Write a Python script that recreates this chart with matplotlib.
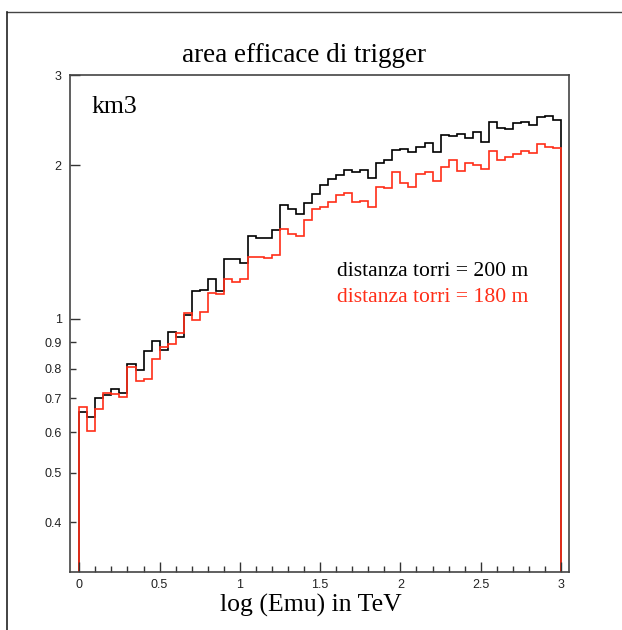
import numpy as np
import matplotlib
matplotlib.use('Agg')
import matplotlib.pyplot as plt
from matplotlib.lines import Line2D

# istogrammi: 60 bin da 0.05 in log(Emu), da 0 a 3
edges = np.linspace(0.0, 3.0, 61)

# area efficace (km3) con distanza torri = 200 m
area_200 = [0.659, 0.642, 0.700, 0.711, 0.730, 0.717, 0.818, 0.795, 0.864, 0.906,
            0.870, 0.944, 0.922, 1.018, 1.133, 1.138, 1.199, 1.134, 1.310, 1.310,
            1.285, 1.451, 1.438, 1.438, 1.493, 1.669, 1.640, 1.605, 1.689, 1.759,
            1.826, 1.879, 1.916, 1.957, 1.941, 1.957, 1.885, 2.022, 2.047, 2.142,
            2.154, 2.120, 2.174, 2.208, 2.120, 2.292, 2.280, 2.295, 2.261, 2.319,
            2.221, 2.433, 2.365, 2.351, 2.415, 2.426, 2.397, 2.481, 2.496, 2.452]

# area efficace (km3) con distanza torri = 180 m
area_180 = [0.672, 0.603, 0.667, 0.717, 0.713, 0.704, 0.804, 0.757, 0.762, 0.834,
            0.880, 0.895, 0.940, 1.027, 0.997, 1.033, 1.122, 1.118, 1.198, 1.183,
            1.198, 1.324, 1.322, 1.318, 1.336, 1.502, 1.467, 1.454, 1.560, 1.644,
            1.659, 1.697, 1.746, 1.767, 1.692, 1.704, 1.654, 1.813, 1.807, 1.942,
            1.843, 1.810, 1.922, 1.934, 1.860, 1.986, 2.050, 1.945, 2.017, 2.002,
            1.966, 2.126, 2.047, 2.078, 2.101, 2.126, 2.116, 2.197, 2.168, 2.161]

y_major = [1, 2, 3]
y_minor = [0.4, 0.5, 0.6, 0.7, 0.8, 0.9]
x_major = [0, 0.5, 1, 1.5, 2, 2.5, 3]

rosso = '#ff2e18'
serif = 'Liberation Serif'
sans = 'Liberation Sans'

fig = plt.figure(figsize=(6.22, 6.30), dpi=100)
ax = fig.add_axes([70 / 622, 58 / 630, 499 / 622, 497 / 630])

# baseline sotto l'asse: i bordi verticali scendono fino in fondo
ax.stairs(area_200, edges, baseline=1e-3, color='black', lw=1.2)
ax.stairs(area_180, edges, baseline=1e-3, color=rosso, lw=1.2)

ax.set_yscale('log')
ax.set_xlim(-0.058, 3.05)
ax.set_ylim(0.32, 3.0)

ax.set_yticks(y_major)
ax.set_yticklabels([str(v) for v in y_major])
ax.set_yticks(y_minor, minor=True)
ax.set_yticklabels([str(v) for v in y_minor], minor=True)

ax.set_xticks(x_major)
ax.set_xticklabels(['0', '0.5', '1', '1.5', '2', '2.5', '3'])
ax.set_xticks(np.arange(0.1, 3.0, 0.1), minor=True)
ax.xaxis.set_minor_formatter(plt.NullFormatter())

ax.tick_params(which='both', direction='in', colors='#333333', labelcolor='#222222',
               labelsize=9, width=1)
ax.tick_params(axis='y', which='major', length=7, pad=6)
ax.tick_params(axis='y', which='minor', length=4, pad=6)
ax.tick_params(axis='x', which='major', length=7, pad=5)
ax.tick_params(axis='x', which='minor', length=4)
for lbl in ax.get_xticklabels() + ax.get_yticklabels(minor=True) + ax.get_yticklabels():
    lbl.set_fontfamily(sans)

for sp in ax.spines.values():
    sp.set_color('#444444')
    sp.set_linewidth(1.2)

fig.text(304 / 622, 1 - 55 / 630, 'area efficace di trigger', family=serif,
         fontsize=19.5, ha='center', va='center')
fig.text(91 / 622, 1 - 107 / 630, 'km3', family=serif, fontsize=18.5, va='center')
fig.text(337 / 622, 1 - 272 / 630, 'distanza torri = 200 m', family=serif,
         fontsize=15.6, va='center', color='black')
fig.text(337 / 622, 1 - 297 / 630, 'distanza torri = 180 m', family=serif,
         fontsize=15.6, va='center', color=rosso)
fig.text(311 / 622, 1 - 605 / 630, 'log (Emu) in TeV', family=serif,
         fontsize=18.5, ha='center', va='center')

# cornice esterna (lato superiore e sinistro)
fig.add_artist(Line2D([7 / 622, 1.0], [1 - 12 / 630, 1 - 12 / 630],
                      transform=fig.transFigure, color='#444444', lw=1))
fig.add_artist(Line2D([7 / 622, 7 / 622], [0.0, 1 - 12 / 630],
                      transform=fig.transFigure, color='#222222', lw=1.2))

fig.savefig('out.png', dpi=100)
